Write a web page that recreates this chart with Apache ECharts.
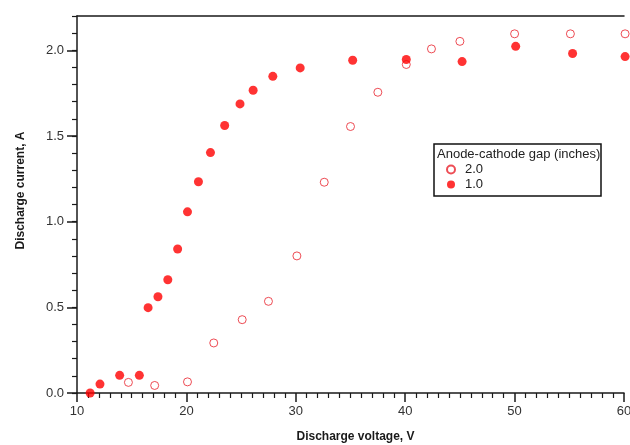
<!DOCTYPE html>
<html>
<head>
<meta charset="utf-8">
<script src="https://cdn.jsdelivr.net/npm/echarts@6/dist/echarts.min.js"></script>
<style>
  html, body { margin: 0; padding: 0; background: #fff; }
  #chart { width: 630px; height: 445px; }
</style>
</head>
<body>
<div id="chart"></div>
<script>
// Discharge current vs. discharge voltage for two anode-cathode gaps
const gapLabels = ['2.0', '1.0'];

const gap2Voltage = [14.7, 17.1, 20.1, 22.5, 25.1, 27.5, 30.1, 32.6, 35.0, 37.5, 40.1, 42.4, 45.0, 50.0, 55.1, 60.1];
const gap2Current = [0.062, 0.044, 0.065, 0.292, 0.428, 0.535, 0.800, 1.230, 1.555, 1.755, 1.917, 2.008, 2.052, 2.096, 2.096, 2.096];

const gap1Voltage = [11.2, 12.1, 13.9, 15.7, 16.5, 17.4, 18.3, 19.2, 20.1, 21.1, 22.2, 23.5, 24.9, 26.1, 27.9, 30.4, 35.2, 40.1, 45.2, 50.1, 55.3, 60.1];
const gap1Current = [0.0, 0.052, 0.103, 0.103, 0.498, 0.562, 0.661, 0.840, 1.057, 1.233, 1.403, 1.561, 1.687, 1.767, 1.848, 1.897, 1.942, 1.946, 1.934, 2.023, 1.981, 1.963];

const yMajorTicks = [0, 0.5, 1.0, 1.5, 2.0];

const pairs = (xs, ys) => xs.map((x, i) => [x, ys[i]]);

const font = 'Liberation Sans, Arial, sans-serif';
const ink = '#1a1a1a';

const chart = echarts.init(document.getElementById('chart'), null, { renderer: 'canvas' });

chart.setOption({
  animation: false,
  backgroundColor: '#fff',
  grid: { left: 77, right: 6, top: 16, bottom: 52, containLabel: false, outerBoundsMode: 'none' },
  xAxis: [
    {
      type: 'value', min: 10, max: 60, interval: 10,
      name: 'Discharge voltage, V', nameLocation: 'middle', nameGap: 38,
      nameTextStyle: { fontFamily: font, fontSize: 12, fontWeight: 'bold', color: ink, padding: [0, 0, 0, 10] },
      axisLine: { show: true, lineStyle: { color: ink, width: 1.5 } },
      axisTick: { show: true, length: 9, lineStyle: { color: ink, width: 1.5 } },
      minorTick: { show: true, splitNumber: 10, length: 5, lineStyle: { color: ink, width: 1.2 } },
      axisLabel: { fontFamily: font, fontSize: 13, color: '#333', margin: 12 },
      splitLine: { show: false }
    },
    {
      // top frame line
      type: 'value', position: 'top', min: 10, max: 60,
      axisLine: { show: true, onZero: false, lineStyle: { color: ink, width: 1.5 } },
      axisTick: { show: false }, axisLabel: { show: false }, splitLine: { show: false }
    }
  ],
  yAxis: [
    {
      type: 'value', min: 0, max: 2.2,
      name: 'Discharge current, A', nameLocation: 'middle', nameGap: 50, nameRotate: 90,
      nameTextStyle: { fontFamily: font, fontSize: 12, fontWeight: 'bold', color: ink, padding: [0, 0, 0, 28] },
      axisLine: { show: true, lineStyle: { color: ink, width: 1.5 } },
      axisTick: { show: true, length: 10, customValues: yMajorTicks, lineStyle: { color: ink, width: 1.5 } },
      axisLabel: { fontFamily: font, fontSize: 13, color: '#333', margin: 13, customValues: yMajorTicks,
                   formatter: v => v.toFixed(1) },
      splitLine: { show: false }
    },
    {
      // minor ticks every 0.1 A
      type: 'value', position: 'left', min: 0, max: 2.2, interval: 0.1,
      axisLine: { show: false }, axisLabel: { show: false }, splitLine: { show: false },
      axisTick: { show: true, length: 5, lineStyle: { color: ink, width: 1.2 } }
    }
  ],
  legend: {
    orient: 'vertical', left: 441, top: 158,
    itemWidth: 10, itemHeight: 8, itemGap: 2,
    textStyle: { fontFamily: font, fontSize: 13, color: '#222', padding: [0, 0, 0, 4] },
    data: [
      { name: gapLabels[0], icon: 'circle' },
      { name: gapLabels[1], icon: 'circle' }
    ]
  },
  graphic: [
    {
      type: 'rect', z: 10,
      shape: { x: 434, y: 144, width: 167, height: 52 },
      style: { fill: 'none', stroke: '#111', lineWidth: 1.5 }
    },
    {
      type: 'text', z: 10, left: 437, top: 148,
      style: { text: 'Anode-cathode gap (inches)', fontFamily: font, fontSize: 13, fill: '#222' }
    }
  ],
  series: [
    {
      name: gapLabels[0], type: 'scatter', z: 2, clip: false,
      symbol: 'circle', symbolSize: 8,
      itemStyle: { color: '#fff', borderColor: '#e8202a', borderWidth: 1 },
      data: pairs(gap2Voltage, gap2Current)
    },
    {
      name: gapLabels[1], type: 'scatter', z: 3, clip: false,
      symbol: 'circle', symbolSize: 9,
      itemStyle: { color: '#ff0000' },
      data: pairs(gap1Voltage, gap1Current)
    }
  ]
});
</script>
</body>
</html>
